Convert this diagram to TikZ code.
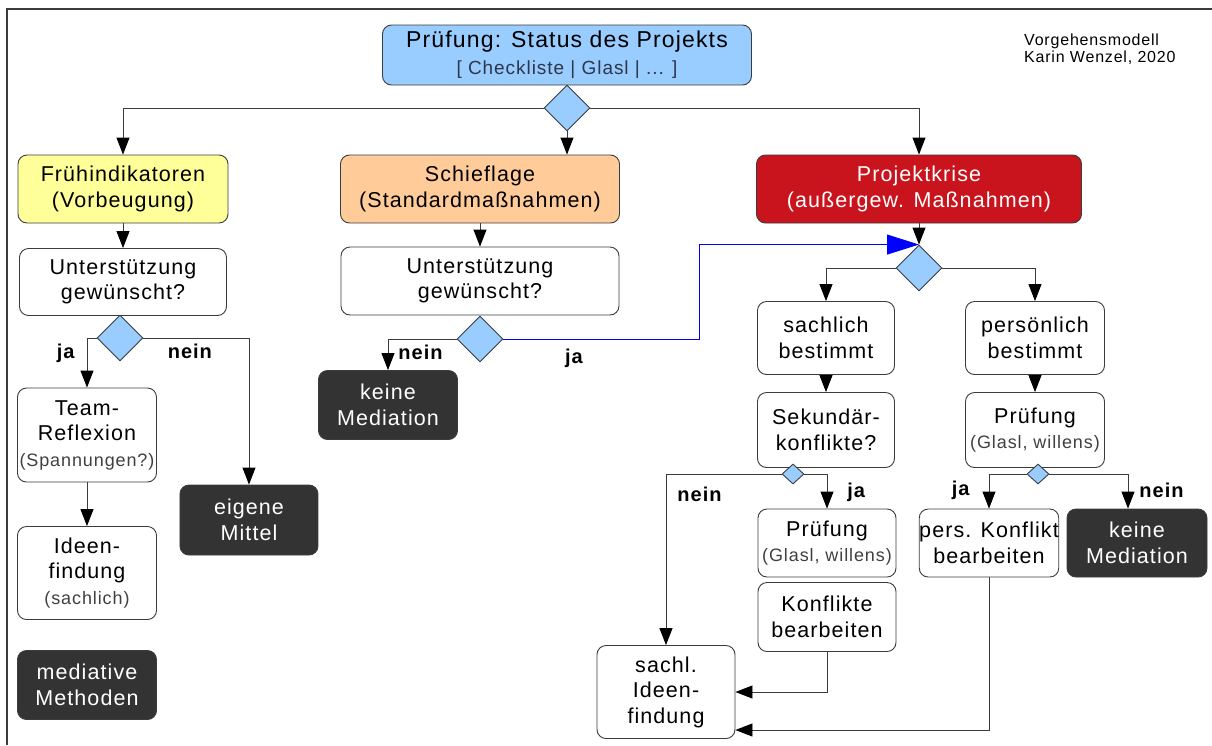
\documentclass[tikz,border=0pt]{standalone}
\usepackage{fontspec}
\setmainfont[LetterSpace=5]{Liberation Sans}
\usetikzlibrary{shapes.geometric, arrows.meta}
\definecolor{checkblue}{RGB}{153,204,255}
\definecolor{earlyyellow}{RGB}{255,255,153}
\definecolor{tiltorange}{RGB}{255,204,153}
\definecolor{crisisred}{RGB}{201,20,30}
\definecolor{stopgray}{RGB}{51,51,51}
\definecolor{linegray}{RGB}{60,60,60}
\definecolor{subgray}{RGB}{45,55,75}
\newcommand{\bodyfont}{\fontsize{21.5}{25.5}\selectfont}
\newcommand{\smallnote}[1]{{\fontsize{18}{20}\selectfont\color{black!75}#1}}
\tikzstyle{basebox} = [rectangle, rounded corners=9pt, draw=linegray, line width=0.9pt, text centered, align=center, inner sep=0pt, font=\bodyfont]
\tikzstyle{statusbox} = [basebox, minimum width=369pt, minimum height=60pt, fill=checkblue, font=\fontsize{23}{27}\selectfont]
\tikzstyle{earlybox} = [basebox, minimum width=210pt, minimum height=68pt, fill=earlyyellow]
\tikzstyle{tiltbox} = [basebox, minimum width=279pt, minimum height=68pt, fill=tiltorange]
\tikzstyle{crisisbox} = [basebox, minimum width=325pt, minimum height=68pt, fill=crisisred, text=white]
\tikzstyle{process} = [basebox, fill=white]
\tikzstyle{stopbox} = [basebox, fill=stopgray, text=white, minimum width=139pt, minimum height=69pt]
\tikzstyle{decision} = [diamond, draw=linegray, line width=0.9pt, fill=checkblue, minimum width=46pt, minimum height=46pt, inner sep=0pt]
\tikzstyle{smalldecision} = [decision, minimum width=22pt, minimum height=20pt]
\tikzstyle{arrow} = [draw=linegray, line width=0.9pt, -{Triangle[length=17pt, width=13pt, color=black]}]
\tikzstyle{bluearrow} = [draw=blue, line width=0.9pt, -{Triangle[length=32pt, width=20pt]}]
\tikzstyle{answer} = [font=\bfseries\fontsize{20}{24}\selectfont, inner sep=0pt]
\tikzstyle{credit} = [align=left, inner sep=0pt, font=\fontsize{16}{17}\selectfont]

\begin{document}
\begin{tikzpicture}[node distance=70pt]
\useasboundingbox (-567pt,55pt) rectangle (645pt,-690pt);
% page frame
\draw [linegray, line width=1.2pt] (645pt,46pt) -- (-560pt,46pt) -- (-560pt,-690pt);

\node (status) [statusbox] {Prüfung: Status des Projekts\\{\fontsize{19}{22}\selectfont\color{subgray}[ Checkliste | Glasl | ... ]}};
\node (credit) [credit, right of=status, xshift=387pt, yshift=6pt, anchor=west] {Vorgehensmodell\\Karin Wenzel, 2020};
\node (gate) [decision, below of=status, yshift=17pt] {};
\node (early) [earlybox, below of=status, xshift=-444pt, yshift=-64pt] {Frühindikatoren\\(Vorbeugung)};
\node (tilt) [tiltbox, below of=status, xshift=-87pt, yshift=-64pt] {Schieflage\\(Standardmaßnahmen)};
\node (crisis) [crisisbox, below of=status, xshift=352pt, yshift=-64pt] {Projektkrise\\(außergew. Maßnahmen)};

% Vorbeugung
\node (askEarly) [process, minimum width=207pt, minimum height=67pt, below of=early, yshift=-23pt] {Unterstützung\\gewünscht?};
\node (gateEarly) [decision, below of=askEarly, xshift=-3pt, yshift=14pt] {};
\node (team) [process, minimum width=139pt, minimum height=94pt, below of=askEarly, xshift=-36pt, yshift=-83pt] {Team-\\Reflexion\\\smallnote{(Spannungen?)}};
\node (ideas) [process, minimum width=139pt, minimum height=93pt, below of=team, yshift=-68pt] {Ideen-\\findung\\\smallnote{(sachlich)}};
\node (methods) [stopbox, below of=ideas, yshift=-42pt] {mediative\\Methoden};
\node (ownMeans) [stopbox, minimum width=138pt, minimum height=70pt, below of=askEarly, xshift=126pt, yshift=-168pt] {eigene\\Mittel};

% Schieflage
\node (askTilt) [process, minimum width=278pt, minimum height=68pt, below of=tilt, yshift=-22pt] {Unterstützung\\gewünscht?};
\node (gateTilt) [decision, below of=askTilt, yshift=12pt] {};
\node (noMedTilt) [stopbox, below of=askTilt, xshift=-92pt, yshift=-54pt] {keine\\Mediation};

% Projektkrise
\node (gateCrisis) [decision, below of=crisis, yshift=-9pt] {};
\node (factual) [process, minimum width=137pt, minimum height=73pt, below of=gateCrisis, xshift=-93pt] {sachlich\\bestimmt};
\node (personal) [process, minimum width=139pt, minimum height=73pt, below of=gateCrisis, xshift=116pt] {persönlich\\bestimmt};
\node (secondary) [process, minimum width=137pt, minimum height=75pt, below of=factual, yshift=-22pt] {Sekundär-\\konflikte?};
\node (checkPers) [process, minimum width=139pt, minimum height=75pt, below of=personal, yshift=-22pt] {Prüfung\\\smallnote{(Glasl, willens)}};
\node (gateSec) [smalldecision, below of=secondary, xshift=-33pt, yshift=26pt] {};
\node (checkSec) [process, minimum width=138pt, minimum height=68pt, below of=secondary, xshift=1pt, yshift=-43pt] {Prüfung\\\smallnote{(Glasl, willens)}};
\node (resolve) [process, minimum width=138pt, minimum height=69pt, below of=checkSec, yshift=-4pt] {Konflikte\\bearbeiten};
\node (factIdeas) [process, minimum width=138pt, minimum height=93pt, below of=resolve, xshift=-161pt, yshift=-5pt] {sachl.\\Ideen-\\findung};
\node (gatePers) [smalldecision, below of=checkPers, xshift=3pt, yshift=26pt] {};
\node (persResolve) [process, minimum width=137pt, minimum height=68pt, below of=checkPers, xshift=-46pt, yshift=-43pt] {pers. Konflikt\\bearbeiten};
\node (noMedPers) [stopbox, minimum width=140pt, minimum height=68pt, below of=checkPers, xshift=102pt, yshift=-43pt] {keine\\Mediation};

\draw [arrow] (gate.west) -| (early);
\draw [arrow] (gate.east) -| (crisis);
\draw [arrow] (gate.south) -- (gate.south |- tilt.north);
\draw [arrow] (early) -- (askEarly);
\draw [arrow] (gateEarly.west) -| node[answer, pos=0.65, left=12pt] {ja} (team);
\draw [arrow] (gateEarly.east) -| node[answer, pos=0.22, below=6pt] {nein} (ownMeans);
\draw [arrow] (team) -- (ideas);
\draw [arrow] (tilt) -- (askTilt);
\draw [arrow] (gateTilt.west) -| node[answer, pos=0.72, right=10pt] {nein} (noMedTilt);
\draw [bluearrow] (gateTilt.east) -- node[answer, pos=0.36, below=10pt] {ja} ++(196pt,0) |- (gateCrisis.north);
\draw [arrow] (crisis) -- (gateCrisis);
\draw [arrow] (gateCrisis.west) -| (factual);
\draw [arrow] (gateCrisis.east) -| (personal);
\draw [arrow] (factual) -- (secondary);
\draw [arrow] (personal) -- (checkPers);
\draw [arrow] (gateSec.west) -| node[answer, pos=0.56, right=11pt] {nein} (factIdeas);
\draw [arrow] (gateSec.east) -| node[answer, pos=0.77, right=20pt] {ja} (checkSec);
\draw [arrow] (resolve) |- (factIdeas);
\draw [arrow] (gatePers.west) -| node[answer, pos=0.73, left=19pt] {ja} (persResolve);
\draw [arrow] (gatePers.east) -| node[answer, pos=0.73, right=11pt] {nein} ([xshift=-9pt]noMedPers.north);
\draw [arrow] (persResolve) |- ([yshift=-38pt]factIdeas.east);
\end{tikzpicture}
\end{document}
